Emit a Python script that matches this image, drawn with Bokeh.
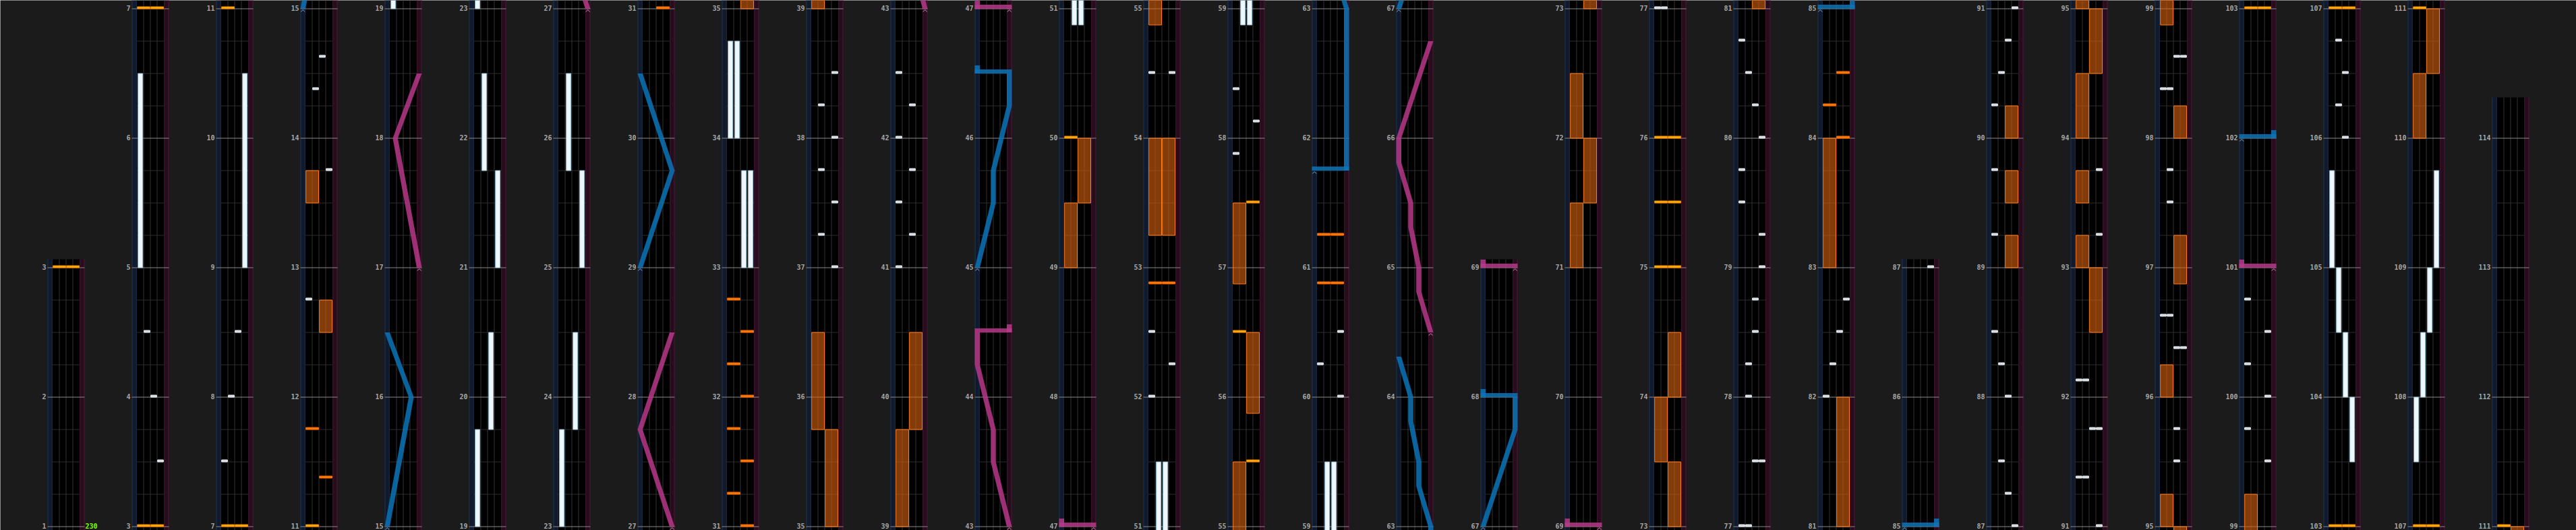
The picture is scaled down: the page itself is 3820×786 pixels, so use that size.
from bokeh.plotting import figure
from bokeh.models import Range1d
from bokeh.core.properties import value
from bokeh.embed import file_html
from bokeh.resources import INLINE

# ---------------- data ----------------
COL_START = [1, 3, 7, 11, 15, 19, 23, 27, 31, 35, 39, 43, 47, 51, 55, 59, 63, 67, 69, 73,
             77, 81, 85, 87, 91, 95, 99, 103, 107, 111]
COL_END = [3, 7, 11, 15, 19, 23, 27, 31, 35, 39, 43, 47, 51, 55, 59, 63, 67, 69, 73, 77,
           81, 85, 87, 91, 95, 99, 103, 107, 111, 114.25]

BPM_AT = [1]
BPM_TEXT = ["230"]

# BT chips: time (measure), lane 0..3
BT_CHIP_T = [3.5, 4.0, 4.5, 7.5, 8.0, 8.5,
             12.75, 13.75, 14.375, 14.625,
             37.0, 37.25, 37.5, 37.75, 38.0, 38.25, 38.5,
             41.0, 41.25, 41.5, 41.75, 42.0, 42.25, 42.5,
             52.0, 52.25, 52.5, 54.5, 54.5,
             57.875, 58.125, 58.375,
             60.0, 60.25, 60.5,
             77.0, 77.0, 77.5, 77.5, 78.0, 78.25, 78.5, 78.75, 79.0, 79.25, 79.5, 79.75,
             80.0, 80.25, 80.5, 80.75,
             82.0, 82.25, 82.5, 82.75,
             87.0, 87.25, 87.5, 88.0, 88.25, 88.5, 89.25, 89.75, 90.25, 90.5, 90.75, 91.0,
             91.375, 91.375, 91.75, 91.75, 92.125, 92.125, 93.25, 93.75,
             95.5, 95.75, 96.375, 96.375, 96.625, 96.625, 97.5, 97.75, 98.375, 98.375,
             98.625, 98.625,
             99.5, 99.75, 100.0, 100.25, 100.5, 100.75,
             106.0, 106.25, 106.5, 106.75]
BT_CHIP_L = [3, 2, 1, 0, 1, 2,
             0, 3, 1, 2,
             3, 1, 3, 1, 3, 1, 3,
             0, 2, 0, 2, 0, 2, 0,
             0, 3, 0, 0, 3,
             0, 3, 0,
             3, 0, 3,
             0, 1, 2, 3, 1, 1, 2, 2, 3, 3, 0, 0,
             3, 2, 1, 0,
             0, 1, 2, 3,
             3, 2, 1, 2, 1, 0, 0, 0, 0, 1, 2, 3,
             0, 1, 2, 3, 0, 1, 3, 3,
             2, 2, 2, 3, 0, 1, 1, 1, 0, 1,
             2, 3,
             3, 0, 3, 0, 3, 0,
             2, 1, 2, 1]

# BT holds: start, end, lane
BT_HOLD_T0 = [5.0, 9.0, 19.0, 19.75, 21.0, 21.75, 23.0, 23.75, 25.0, 25.75,
              33.0, 33.0, 34.0, 34.0, 50.875, 50.875, 58.875, 58.875,
              103.5, 104.0, 104.5, 105.0, 107.5, 108.0, 108.5, 109.0]
BT_HOLD_T1 = [6.5, 10.5, 19.75, 20.5, 21.75, 22.5, 23.75, 24.5, 25.75, 26.5,
              33.75, 33.75, 34.75, 34.75, 51.5, 51.5, 59.5, 59.5,
              104.0, 104.5, 105.0, 105.75, 108.0, 108.5, 109.0, 109.75]
BT_HOLD_L = [0, 3, 0, 2, 3, 1, 0, 2, 3, 1,
             2, 3, 0, 1, 1, 2, 1, 2,
             3, 2, 1, 0, 0, 1, 2, 3]

# FX chips: time, side (0 = L, 1 = R), kind ('y' bright / 'o' orange)
FX_CHIP_T = [3, 3, 7, 7, 11, 11.375, 11.75,
             31, 31.25, 31.5, 31.75, 32, 32.25, 32.5, 32.75,
             50, 52.875, 52.875, 55.5, 56.5, 57.5,
             60.875, 60.875, 61.25, 61.25,
             75, 75, 75.5, 75.5, 76, 76,
             84, 84.25, 84.5,
             103, 103, 107, 107, 111]
FX_CHIP_S = [0, 1, 0, 1, 0, 1, 0,
             1, 0, 1, 0, 1, 0, 1, 0,
             0, 0, 1, 1, 0, 1,
             0, 1, 0, 1,
             0, 1, 0, 1, 0, 1,
             1, 0, 1,
             0, 1, 0, 1, 0]
FX_CHIP_K = ['y', 'y', 'y', 'y', 'y', 'o', 'o',
             'o', 'o', 'o', 'o', 'o', 'o', 'o', 'o',
             'y', 'o', 'o', 'y', 'y', 'y',
             'o', 'o', 'o', 'o',
             'y', 'y', 'y', 'y', 'y', 'y',
             'o', 'o', 'o',
             'y', 'y', 'y', 'y', 'y']

# FX holds: start, end, side
FX_HOLD_T0 = [12.5, 13.5, 35.0, 35.75, 39.0, 39.75, 49.0, 49.5, 53.25, 53.25,
              54.875, 55.875, 56.875, 71.0, 71.5, 72.0, 73.0, 73.5, 74.0,
              81.0, 83.0, 89.0, 89.5, 90.0, 92.5, 93.0, 93.5, 94.0, 94.5,
              95.0, 96.0, 96.875, 98.0, 98.875, 110.0, 110.5]
FX_HOLD_T1 = [12.75, 13.75, 35.75, 36.5, 39.75, 40.5, 49.5, 50.0, 54.0, 54.0,
              55.5, 56.5, 57.5, 71.5, 72.0, 72.5, 73.5, 74.0, 74.5,
              82.0, 84.0, 89.25, 89.75, 90.25, 93.0, 93.25, 93.75, 94.5, 95.0,
              95.25, 96.25, 97.25, 98.25, 99.25, 110.5, 111.0]
FX_HOLD_S = [1, 0, 1, 0, 0, 1, 0, 1, 0, 1,
             0, 1, 0, 0, 1, 0, 1, 0, 1,
             1, 0, 1, 1, 1, 1, 0, 0, 0, 1,
             0, 0, 1, 1, 0, 0, 1]

# Lasers: lists of (time, position 0..1); equal times = slam
LASER_BLUE = [
    [(15, 0), (16, 0.75), (16.5, 0)],
    [(29, 0), (29.75, 1), (30.5, 0)],
    [(45, 0), (45.5, 0.5), (45.75, 0.5), (46.25, 1), (46.5, 1), (46.5, 0)],
    [(61.75, 0), (61.75, 1), (63, 1), (63.3125, 0.625), (63.5, 0.625),
     (63.8125, 0.375), (64, 0.375), (64.3125, 0)],
    [(67, 0), (67.75, 1), (68, 1), (68, 0)],
    [(85, 0), (85, 1)],
    [(102, 0), (102, 1)],
]
LASER_PINK = [
    [(17, 1), (18, 0.25), (18.5, 1)],
    [(27, 1), (27.75, 0), (28.5, 1)],
    [(43, 1), (43.5, 0.5), (43.75, 0.5), (44.25, 0), (44.5, 0), (44.5, 1)],
    [(47, 1), (47, 0)],
    [(64.5, 1), (64.8125, 0.625), (65, 0.625), (65.3125, 0.375), (65.5, 0.375),
     (65.8125, 0), (66, 0), (66.75, 1)],
    [(69, 1), (69, 0)],
    [(101, 1), (101, 0)],
]

# ---------------- geometry helpers ----------------
PXM = 1.0 / 192.0          # one screen pixel in measures
PAD_B = 5.5 * PXM
PAD_T = 12.5 * PXM
LW = 0.75                  # laser lane width (lane units, 1 unit = 10 px)
BG = "#1b1b1b"
COL_STEP = 12.5            # column pitch in units
COL_X0 = 7.75              # BT area left edge of first column in units


def lx(pos):
    return -LW / 2 + (4 + LW) * pos


class Acc:
    def __init__(self, *keys):
        self.d = {k: [] for k in keys}

    def add(self, **kw):
        for k, v in kw.items():
            self.d[k].append(v)


lane_bg = Acc("left", "right", "bottom", "top", "color")
edges = Acc("x0", "x1", "y0", "y1", "color")
beat = Acc("x0", "x1", "y0", "y1")
sep = Acc("x0", "x1", "y0", "y1")
meas = Acc("x0", "x1", "y0", "y1")
labels = Acc("x", "y", "text")
bpm = Acc("x", "y", "text")
fxh = Acc("left", "right", "bottom", "top")
bth = Acc("left", "right", "bottom", "top")
fxc = {"y": Acc("left", "right", "bottom", "top"), "o": Acc("left", "right", "bottom", "top")}
btc = Acc("left", "right", "bottom", "top")
las = {"b": Acc("xs", "ys"), "p": Acc("xs", "ys")}
car = {"b": Acc("xs", "ys"), "p": Acc("xs", "ys")}

for c, (s, e) in enumerate(zip(COL_START, COL_END)):
    xo = COL_X0 + COL_STEP * c
    lo, hi = s - PAD_B, e + PAD_T
    ylo, yhi = lo - s, hi - s
    for l, r, col in ((-LW, 0, "#111a2d"), (0, 4, "#000000"), (4, 4 + LW, "#270d1c")):
        lane_bg.add(left=xo + l, right=xo + r, bottom=ylo, top=yhi, color=col)
    for ex, col in ((-LW + 0.05, "#1e3552"), (-0.08, "#1a2a40"), (4.08, "#3f1630"), (4 + LW - 0.05, "#4a1a3a")):
        edges.add(x0=xo + ex, x1=xo + ex, y0=ylo, y1=yhi, color=col)
    for q in range(1, int(round((e - s) * 4))):
        if q % 4:
            beat.add(x0=xo, x1=xo + 4, y0=q / 4.0, y1=q / 4.0)
    for sx in (1, 2, 3):
        sep.add(x0=xo + sx, x1=xo + sx, y0=ylo, y1=yhi)
    for m in range(int(s), int(e) + 1):
        meas.add(x0=xo - LW, x1=xo + 4 + LW, y0=m - s, y1=m - s)
        labels.add(x=xo - LW - 0.2, y=m - s, text=str(m))
    for t, txt in zip(BPM_AT, BPM_TEXT):
        if s <= t <= e:
            bpm.add(x=xo + 4 + LW + 0.1, y=t - s, text=txt)
    for a, b, sd in zip(FX_HOLD_T0, FX_HOLD_T1, FX_HOLD_S):
        if b > lo and a < hi:
            fxh.add(left=xo + 2 * sd + 0.07, right=xo + 2 * sd + 1.95,
                    bottom=max(a, lo) - s, top=min(b, hi) - s)
    for a, b, ln in zip(BT_HOLD_T0, BT_HOLD_T1, BT_HOLD_L):
        if b > lo and a < hi:
            bth.add(left=xo + ln + 0.17, right=xo + ln + 0.87,
                    bottom=max(a, lo) - s, top=min(b, hi) - s)
    for t, sd, kk in zip(FX_CHIP_T, FX_CHIP_S, FX_CHIP_K):
        if lo <= t <= hi - 3 * PXM:
            fxc[kk].add(left=xo + 2 * sd + 0.07, right=xo + 2 * sd + 1.95,
                        bottom=t - s, top=t - s + 3 * PXM)
    for t, ln in zip(BT_CHIP_T, BT_CHIP_L):
        if lo <= t <= hi - 3 * PXM:
            btc.add(left=xo + ln + 0.07, right=xo + ln + 0.93,
                    bottom=t - s, top=t - s + 3 * PXM)
    for key, lasers in (("b", LASER_BLUE), ("p", LASER_PINK)):
        for pts in lasers:
            n = len(pts)
            for i in range(n - 1):
                (t1, p1), (t2, p2) = pts[i], pts[i + 1]
                x1, x2 = lx(p1), lx(p2)
                if t2 > t1:
                    a, b = max(t1, lo), min(t2, hi)
                    if a >= b:
                        continue
                    xa = x1 + (x2 - x1) * (a - t1) / (t2 - t1)
                    xb = x1 + (x2 - x1) * (b - t1) / (t2 - t1)
                    las[key].add(xs=[xo + xa - LW / 2, xo + xa + LW / 2, xo + xb + LW / 2, xo + xb - LW / 2],
                                 ys=[a - s, a - s, b - s, b - s])
                else:
                    if t1 < lo or t1 > hi - 12 * PXM:
                        continue
                    l, r = min(x1, x2) - LW / 2, max(x1, x2) + LW / 2
                    las[key].add(xs=[xo + l, xo + r, xo + r, xo + l],
                                 ys=[t1 - s, t1 - s, t1 - s + 6 * PXM, t1 - s + 6 * PXM])
                    if i == n - 2:
                        las[key].add(xs=[xo + x2 - LW / 2, xo + x2 + LW / 2, xo + x2 + LW / 2, xo + x2 - LW / 2],
                                     ys=[t1 - s, t1 - s, t1 - s + 12 * PXM, t1 - s + 12 * PXM])
            t0, p0 = pts[0]
            if lo + 5 * PXM <= t0 <= hi:
                x0 = xo + lx(p0)
                car[key].add(xs=[x0 - 0.3, x0, x0 + 0.3],
                             ys=[t0 - s - 4.5 * PXM, t0 - s - 1.5 * PXM, t0 - s - 4.5 * PXM])

p = figure(width=3820, height=786, x_range=Range1d(0, 382),
           y_range=Range1d(-PAD_B, 4 + PAD_T),
           output_backend="svg", toolbar_location=None,
           x_axis_location=None, y_axis_location=None, min_border=0,
           background_fill_color=BG, border_fill_color=BG, outline_line_color=None)
p.grid.visible = False

p.quad(source=lane_bg.d, left="left", right="right", bottom="bottom", top="top",
       fill_color="color", line_color=None)
p.segment(source=edges.d, x0="x0", x1="x1", y0="y0", y1="y1", line_color="color", line_width=1)
p.segment(source=beat.d, x0="x0", x1="x1", y0="y0", y1="y1", line_color="#2c2c2c", line_width=1)
p.segment(source=sep.d, x0="x0", x1="x1", y0="y0", y1="y1", line_color="#333333", line_width=1)
p.segment(source=meas.d, x0="x0", x1="x1", y0="y0", y1="y1", line_color="#8a8a8a", line_width=1)
p.text(source=labels.d, x="x", y="y", text="text",
       text_align="right", text_baseline="alphabetic", y_offset=-1,
       text_font=value("DejaVu Sans Mono"), text_font_style="bold",
       text_font_size="10px", text_color="#a6a6a6")
p.text(source=bpm.d, x="x", y="y", text="text", text_align="left",
       text_baseline="alphabetic", y_offset=-1,
       text_font=value("DejaVu Sans Mono"), text_font_style="bold",
       text_font_size="10px", text_color="#7cfc00")
p.quad(source=fxh.d, left="left", right="right", bottom="bottom", top="top",
       fill_color="#d2600f", fill_alpha=0.62, line_color="#ff7a1a", line_width=1)
p.quad(source=bth.d, left="left", right="right", bottom="bottom", top="top",
       fill_color="#eef7fb", line_color="#97bfd2", line_width=1)
p.quad(source=fxc["y"].d, left="left", right="right", bottom="bottom", top="top",
       fill_color="#ffb400", line_color="#ff8000", line_width=1)
p.quad(source=fxc["o"].d, left="left", right="right", bottom="bottom", top="top",
       fill_color="#ff7800", line_color="#ff6a00", line_width=1)
p.quad(source=btc.d, left="left", right="right", bottom="bottom", top="top",
       fill_color="#cfd6de", line_color="#f2f6fa", line_width=1)
for key, col, ccol in (("b", "#0b74b8", "#6fb0e0"), ("p", "#b8388a", "#e58cc4")):
    p.patches(source=las[key].d, xs="xs", ys="ys", fill_color=col, fill_alpha=0.85, line_color=None)
    p.multi_line(source=car[key].d, xs="xs", ys="ys", line_color=ccol, line_width=1)

html = file_html(p, INLINE)
html = html.replace("<body>", '<body style="margin:0;background-color:#1b1b1b;">', 1)
open("out.html", "w").write(html)
